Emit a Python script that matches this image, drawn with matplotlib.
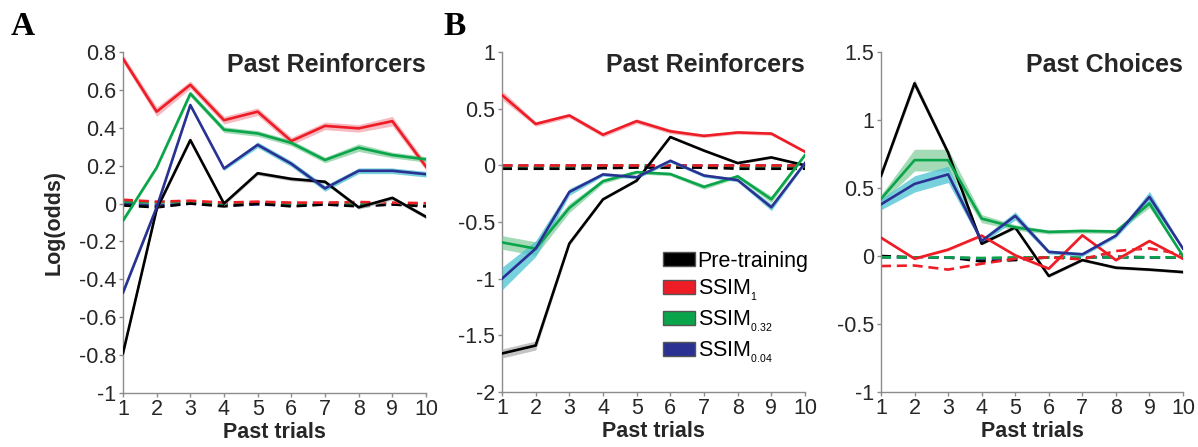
import matplotlib
matplotlib.use("Agg")
import matplotlib.pyplot as plt
from matplotlib.patches import Patch
import numpy as np

trials = list(range(1, 11))

# ---------- Panel A: Past Reinforcers ----------
A_pre = [-0.79, -0.03, 0.335, 0.0, 0.16, 0.13, 0.115, -0.02, 0.03, -0.07]
A_s1 = [0.765, 0.485, 0.627, 0.44, 0.485, 0.33, 0.41, 0.397, 0.435, 0.195]
A_s032 = [-0.09, 0.19, 0.58, 0.39, 0.37, 0.32, 0.23, 0.295, 0.256, 0.233]
A_s004 = [-0.47, -0.02, 0.52, 0.185, 0.31, 0.21, 0.08, 0.173, 0.173, 0.155]
A_pre_err = [0.01, 0.01, 0.01, 0.01, 0.01, 0.01, 0.01, 0.01, 0.01, 0.01]
A_s1_err = [0.02, 0.025, 0.02, 0.02, 0.02, 0.02, 0.02, 0.02, 0.025, 0.02]
A_s032_err = [0.01, 0.01, 0.015, 0.015, 0.015, 0.015, 0.015, 0.02, 0.015, 0.015]
A_s004_err = [0.01, 0.01, 0.01, 0.01, 0.015, 0.015, 0.015, 0.015, 0.015, 0.015]
A_pre_sh = [-0.01, -0.02, 0.0, -0.015, 0.0, -0.015, -0.005, -0.015, -0.005, -0.015]
A_s1_sh = [0.02, 0.01, 0.015, 0.005, 0.01, 0.005, 0.005, 0.008, 0.005, 0.002]
A_s032_sh = [0.01, 0.005, 0.01, 0.0, 0.005, 0.0, 0.0, 0.0, 0.0, 0.0]
A_s004_sh = [0.0, -0.01, 0.0, -0.01, -0.005, -0.01, -0.005, -0.01, -0.005, -0.01]

# ---------- Panel B: Past Reinforcers ----------
B_pre = [-1.66, -1.59, -0.69, -0.30, -0.135, 0.25, 0.13, 0.02, 0.07, 0.0]
B_s1 = [0.62, 0.365, 0.44, 0.27, 0.39, 0.30, 0.26, 0.29, 0.28, 0.12]
B_s032 = [-0.68, -0.735, -0.376, -0.14, -0.06, -0.077, -0.19, -0.097, -0.30, 0.09]
B_s004 = [-1.0, -0.735, -0.235, -0.08, -0.105, 0.04, -0.09, -0.13, -0.37, 0.02]
B_pre_err = [0.04, 0.04, 0.02, 0.01, 0.01, 0.01, 0.01, 0.01, 0.01, 0.01]
B_s1_err = [0.04, 0.02, 0.02, 0.02, 0.02, 0.02, 0.015, 0.015, 0.015, 0.01]
B_s032_err = [0.06, 0.06, 0.04, 0.02, 0.015, 0.015, 0.02, 0.015, 0.03, 0.01]
B_s004_err = [0.1, 0.07, 0.03, 0.015, 0.015, 0.015, 0.015, 0.015, 0.03, 0.01]
B_pre_sh = [-0.03, -0.03, -0.03, -0.025, -0.02, -0.02, -0.02, -0.03, -0.03, -0.03]
B_s1_sh = [0.0, 0.0, 0.0, 0.0, 0.0, 0.0, 0.0, 0.0, 0.0, 0.0]
B_s032_sh = [-0.01, -0.01, -0.01, -0.005, 0.0, -0.01, -0.01, -0.01, -0.01, -0.01]
B_s004_sh = [0.0, 0.0, 0.0, 0.0, 0.0, 0.0, 0.0, 0.0, 0.0, 0.0]

# ---------- Panel C: Past Choices ----------
C_pre = [0.59, 1.27, 0.76, 0.09, 0.21, -0.147, -0.03, -0.086, -0.10, -0.118]
C_s1 = [0.135, -0.02, 0.047, 0.15, 0.005, -0.093, 0.152, -0.03, 0.11, -0.02]
C_s032 = [0.42, 0.705, 0.705, 0.275, 0.21, 0.177, 0.184, 0.18, 0.386, 0.0]
C_s004 = [0.38, 0.53, 0.60, 0.11, 0.295, 0.03, 0.012, 0.15, 0.435, 0.054]
C_pre_err = [0.02, 0.03, 0.02, 0.01, 0.01, 0.01, 0.01, 0.01, 0.01, 0.01]
C_s1_err = [0.01, 0.01, 0.01, 0.01, 0.01, 0.01, 0.01, 0.01, 0.01, 0.01]
C_s032_err = [0.03, 0.08, 0.08, 0.03, 0.02, 0.015, 0.015, 0.015, 0.03, 0.01]
C_s004_err = [0.04, 0.06, 0.06, 0.02, 0.03, 0.015, 0.015, 0.015, 0.04, 0.01]
C_pre_sh = [0.0, -0.01, -0.01, -0.04, -0.03, -0.01, -0.01, -0.005, -0.01, -0.01]
C_s1_sh = [-0.074, -0.07, -0.10, -0.057, -0.02, -0.01, -0.025, 0.037, 0.056, 0.01]
C_s032_sh = [-0.01, -0.01, -0.01, -0.015, -0.01, -0.01, -0.01, -0.01, -0.01, -0.01]
C_s004_sh = [-0.01, -0.01, -0.01, -0.02, -0.015, -0.01, -0.01, -0.01, -0.01, -0.01]

legend_labels = ["Pre-training", "SSIM$_{{}_{1}}$", "SSIM$_{{}_{0.32}}$", "SSIM$_{{}_{0.04}}$"]
titles = ["Past Reinforcers", "Past Reinforcers", "Past Choices"]
ylims = [(-1, 0.8), (-2, 1), (-1, 1.5)]
yticks = [[-1, -0.8, -0.6, -0.4, -0.2, 0, 0.2, 0.4, 0.6, 0.8],
          [-2, -1.5, -1, -0.5, 0, 0.5, 1],
          [-1, -0.5, 0, 0.5, 1, 1.5]]

line_colors = ["#000000", "#ee1c25", "#0aa54b", "#2b3192"]
band_colors = ["#b0b0b0", "#f5a3ad", "#86cf9e", "#4bc3d3"]

plt.rcParams['font.family'] = ['Liberation Sans', 'DejaVu Sans']
plt.rcParams['mathtext.fontset'] = 'custom'
plt.rcParams['mathtext.rm'] = 'Liberation Sans'
plt.rcParams['mathtext.it'] = 'Liberation Sans'
fig = plt.figure(figsize=(11.98, 4.47), dpi=100)

positions = [
    [123 / 1198, 1 - 393 / 447, 303 / 1198, 341 / 447],
    [502 / 1198, 1 - 392 / 447, 303 / 1198, 340 / 447],
    [881 / 1198, 1 - 392 / 447, 302 / 1198, 340 / 447],
]

panels = [
    (A_pre, A_s1, A_s032, A_s004, A_pre_err, A_s1_err, A_s032_err, A_s004_err,
     A_pre_sh, A_s1_sh, A_s032_sh, A_s004_sh),
    (B_pre, B_s1, B_s032, B_s004, B_pre_err, B_s1_err, B_s032_err, B_s004_err,
     B_pre_sh, B_s1_sh, B_s032_sh, B_s004_sh),
    (C_pre, C_s1, C_s032, C_s004, C_pre_err, C_s1_err, C_s032_err, C_s004_err,
     C_pre_sh, C_s1_sh, C_s032_sh, C_s004_sh),
]

x = np.array(trials)
axes = []
for i, (pos, pdata) in enumerate(zip(positions, panels)):
    ax = fig.add_axes(pos)
    axes.append(ax)
    means = pdata[0:4]
    errs = pdata[4:8]
    shs = pdata[8:12]
    dash_order = [3, 2, 0, 1] if i < 2 else [0, 3, 2, 1]
    for k in dash_order:
        ax.plot(x, shs[k], color=line_colors[k], lw=1.9, ls=(0, (3.8, 2.2)), zorder=2)
    for k in [0, 1, 2, 3]:
        m = np.array(means[k]); e = np.array(errs[k])
        ax.fill_between(x, m - e, m + e, color=band_colors[k], alpha=0.75, lw=0, zorder=3)
        ax.plot(x, m, color=line_colors[k], lw=1.9, zorder=4)
    ax.set_xlim(1, 10)
    ax.set_ylim(*ylims[i])
    ax.set_xticks(trials)
    ax.set_yticks(yticks[i])
    ax.set_yticklabels([f"{t:g}" for t in yticks[i]])
    for s in ["top", "right"]:
        ax.spines[s].set_visible(False)
    for s in ["left", "bottom"]:
        ax.spines[s].set_color("#8c8c8c")
        ax.spines[s].set_linewidth(1.0)
    ax.tick_params(direction="out", length=3, width=1.0, color="#8c8c8c",
                   labelsize=15.5, labelcolor="#262626")
    ax.tick_params(axis="y", pad=2)
    ax.tick_params(axis="x", pad=1)
    ax.set_xlabel("Past trials", fontsize=15.5, fontweight="bold", color="#262626", labelpad=2)
    ax.text(1.0, 0.941, titles[i], transform=ax.transAxes, ha="right", va="baseline",
            fontsize=18, fontweight="bold", color="#262626")

axes[0].set_ylabel("Log(odds)", fontsize=15.5, fontweight="bold", color="#262626")
axes[0].yaxis.set_label_coords(-0.192, 0.5)

handles = [Patch(facecolor=c, edgecolor="#555555", lw=1.0) for c in line_colors]
axes[1].legend(handles, legend_labels, loc="lower right", bbox_to_anchor=(1.04, 0.055),
               frameon=False, fontsize=15.5, handlelength=1.5, handleheight=0.6,
               handletextpad=0.1, labelspacing=0.27, borderaxespad=0)

fig.text(11 / 1198, 1 - 35 / 447, "A", fontsize=24, fontweight="bold",
         family=["Liberation Serif", "DejaVu Serif"], ha="left", va="baseline")
fig.text(443 / 1198, 1 - 35 / 447, "B", fontsize=24, fontweight="bold",
         family=["Liberation Serif", "DejaVu Serif"], ha="left", va="baseline")

fig.savefig("out.png", dpi=100)
